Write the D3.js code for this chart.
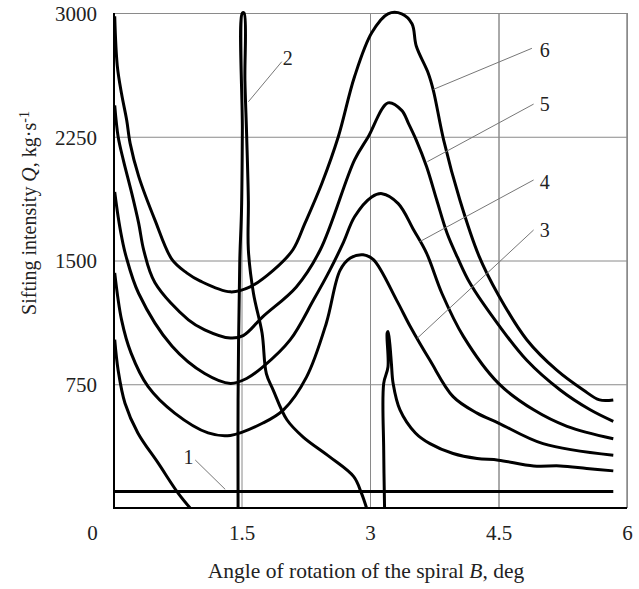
<!DOCTYPE html>
<html>
<head>
<meta charset="utf-8">
<script src="https://cdn.jsdelivr.net/npm/d3@7"></script>
<style>
  body { margin: 0; background: #fff; }
  text { font-family: "Liberation Serif", "Times New Roman", serif; fill: #222; }
</style>
</head>
<body>
<div id="chart"></div>
<script>
// axis ticks
const xTicks = [0, 1.5, 3, 4.5, 6]
const yTicks = [750, 1500, 2250, 3000]

// curves: [B deg, Q kg/s]
const curve1 = [[0.02, 100], [5.84, 100]]
const curve2 = [[1.46, 0], [1.46, 650], [1.48, 1500], [1.50, 1800], [1.51, 2290], [1.51, 3000], [1.53, 3000],
  [1.54, 2590], [1.56, 2260], [1.58, 1860], [1.58, 1565], [1.64, 1300], [1.74, 1060], [1.79, 815],
  [1.87, 715], [2.03, 535], [2.22, 430], [2.53, 310], [2.81, 190], [2.90, 90], [2.96, 0]]
const curve3 = [[0.02, 1425], [0.10, 1140], [0.21, 940], [0.41, 735], [0.72, 575], [1.11, 455], [1.37, 440],
  [1.75, 515], [1.99, 595], [2.26, 795], [2.49, 1120], [2.65, 1440], [2.77, 1515], [2.92, 1535],
  [3.04, 1505], [3.31, 1260], [3.47, 1100], [3.70, 895], [3.97, 675], [4.25, 575], [4.50, 515],
  [5.02, 390], [5.84, 320]]
const curve4 = [[0.02, 1915], [0.06, 1765], [0.10, 1645], [0.15, 1530], [0.30, 1300], [0.69, 980],
  [1.07, 815], [1.37, 755], [1.56, 785], [1.75, 855], [2.07, 1020], [2.34, 1260], [2.53, 1440],
  [2.69, 1610], [2.82, 1765], [3.02, 1885], [3.14, 1905], [3.33, 1845], [3.51, 1685], [3.66, 1545],
  [3.84, 1300], [4.09, 1040], [4.50, 755], [4.91, 595], [5.30, 495], [5.84, 420]]
const curve5 = [[0.02, 2440], [0.06, 2250], [0.12, 2110], [0.22, 1905], [0.30, 1725], [0.36, 1560],
  [0.49, 1365], [0.88, 1140], [1.07, 1080], [1.37, 1030], [1.52, 1045], [1.75, 1160], [2.14, 1340], [2.42, 1565],
  [2.82, 2110], [2.98, 2250], [3.21, 2455], [3.37, 2410], [3.45, 2330], [3.54, 2230], [3.66, 2070],
  [3.78, 1865], [3.90, 1665], [4.02, 1520], [4.17, 1360], [4.50, 1110], [4.83, 895], [5.22, 715],
  [5.57, 595], [5.84, 525]]
const curve6 = [[0.02, 2980], [0.05, 2680], [0.10, 2510], [0.16, 2350], [0.20, 2210], [0.30, 2010],
  [0.49, 1745], [0.69, 1505], [0.86, 1425], [1.02, 1375], [1.37, 1310], [1.60, 1340], [1.87, 1440], [2.10, 1565],
  [2.24, 1725], [2.44, 1970], [2.63, 2250], [2.82, 2615], [3.02, 2880], [3.21, 2995], [3.37, 2995],
  [3.49, 2935], [3.54, 2800], [3.68, 2635], [3.74, 2530], [3.86, 2230], [4.05, 1865], [4.27, 1530],
  [4.50, 1290], [4.83, 1020], [5.18, 835], [5.49, 715], [5.68, 655], [5.84, 655]]
// unlabelled curves
const curveLeft = [[0.02, 1020], [0.06, 835], [0.14, 635], [0.29, 455], [0.53, 270], [0.76, 90], [0.90, 0]]
const curveSpike = [[3.17, 0], [3.16, 350], [3.16, 755], [3.21, 855], [3.20, 1060], [3.21, 1070], [3.23, 1000],
  [3.25, 875], [3.27, 755], [3.35, 595], [3.53, 455], [3.70, 390], [3.97, 330], [4.25, 300],
  [4.50, 290], [4.91, 255], [5.22, 255], [5.53, 240], [5.84, 225]]

// curve number labels: text position, leader start, leader end
const labelNames = ["1", "2", "3", "4", "5", "6"]
const labelAt = [[0.88, 311], [2.04, 2727], [5.04, 1685], [5.04, 1978], [5.04, 2448], [5.04, 2776]]
const leaderFrom = [[0.96, 291], [1.97, 2705], [4.91, 1685], [4.91, 1988], [4.91, 2448], [4.89, 2786]]
const leaderTo = [[1.31, 113], [1.58, 2462], [3.55, 1028], [3.58, 1614], [3.67, 2099], [3.74, 2537]]

const width = 639, height = 589
const plotLeft = 113, plotRight = 627, plotTop = 13, plotBottom = 508

const svg = d3.select("#chart").append("svg")
    .attr("width", width)
    .attr("height", height)

const x = d3.scaleLinear().domain([0, 6]).range([plotLeft, plotRight])
const y = d3.scaleLinear().domain([0, 3000]).range([plotBottom, plotTop])

// grid
svg.append("g")
    .attr("transform", "translate(0," + plotBottom + ")")
    .call(d3.axisBottom(x).tickValues(xTicks).tickSize(-(plotBottom - plotTop)).tickFormat(d => d))
    .call(g => g.select(".domain").remove())
    .call(g => g.selectAll("line").attr("stroke", (d) => d === 4.5 ? "#555" : "#8a8a8a").attr("stroke-width", 1))
    .call(g => g.selectAll("text")
        .attr("y", 32).attr("dy", null)
        .attr("dx", d => d === 0 ? -21 : 0)
        .style("font-size", "21px").style("font-family", "Liberation Serif").attr("fill", "#222"))

svg.append("g")
    .attr("transform", "translate(" + plotLeft + ",0)")
    .call(d3.axisLeft(y).tickValues(yTicks).tickSize(-(plotRight - plotLeft)).tickFormat(d => d))
    .call(g => g.select(".domain").remove())
    .call(g => g.selectAll("line").attr("stroke", "#8a8a8a").attr("stroke-width", 1))
    .call(g => g.selectAll("text")
        .attr("x", -16).attr("dy", "0.35em")
        .style("font-size", "21px").style("font-family", "Liberation Serif").attr("fill", "#222"))

// frame: left and bottom black, right grey
svg.append("line").attr("x1", plotRight).attr("x2", plotRight).attr("y1", plotTop).attr("y2", plotBottom)
    .attr("stroke", "#8a8a8a").attr("stroke-width", 1.5)
svg.append("line").attr("x1", plotLeft).attr("x2", plotRight).attr("y1", plotBottom).attr("y2", plotBottom)
    .attr("stroke", "#000").attr("stroke-width", 2)
svg.append("line").attr("x1", plotLeft + 1).attr("x2", plotLeft + 1).attr("y1", plotTop).attr("y2", plotBottom)
    .attr("stroke", "#000").attr("stroke-width", 2)

// curves
const line = d3.line()
    .x(d => x(d[0]))
    .y(d => y(d[1]))
    .curve(d3.curveCatmullRom.alpha(0.5))

const curves = [curve1, curve2, curve3, curve4, curve5, curve6, curveLeft, curveSpike]
svg.append("g").selectAll("path")
    .data(curves)
    .enter().append("path")
      .attr("d", line)
      .attr("fill", "none")
      .attr("stroke", "#000")
      .attr("stroke-width", 3)
      .attr("stroke-linejoin", "round")

// leaders and labels
svg.append("g").selectAll("line")
    .data(labelNames)
    .enter().append("line")
      .attr("x1", (d, i) => x(leaderFrom[i][0]))
      .attr("y1", (d, i) => y(leaderFrom[i][1]))
      .attr("x2", (d, i) => x(leaderTo[i][0]))
      .attr("y2", (d, i) => y(leaderTo[i][1]))
      .attr("stroke", "#777")
      .attr("stroke-width", 1)

svg.append("g").selectAll("text")
    .data(labelNames)
    .enter().append("text")
      .attr("x", (d, i) => x(labelAt[i][0]))
      .attr("y", (d, i) => y(labelAt[i][1]))
      .attr("dy", "0.35em")
      .attr("text-anchor", "middle")
      .style("font-size", "20px")
      .text(d => d)

// axis titles
const xTitle = svg.append("text")
    .attr("x", 366).attr("y", 578)
    .attr("text-anchor", "middle")
    .style("font-size", "21.5px")
xTitle.append("tspan").text("Angle of rotation of the spiral ")
xTitle.append("tspan").style("font-style", "italic").text("B")
xTitle.append("tspan").text(", deg")

const yTitle = svg.append("text")
    .attr("transform", "translate(36,213) rotate(-90)")
    .attr("text-anchor", "middle")
    .style("font-size", "20px")
yTitle.append("tspan").text("Sifting intensity ")
yTitle.append("tspan").style("font-style", "italic").text("Q")
yTitle.append("tspan").text(", kg·s")
yTitle.append("tspan").attr("dy", "-0.5em").style("font-size", "14px").text("-1")
</script>
</body>
</html>
